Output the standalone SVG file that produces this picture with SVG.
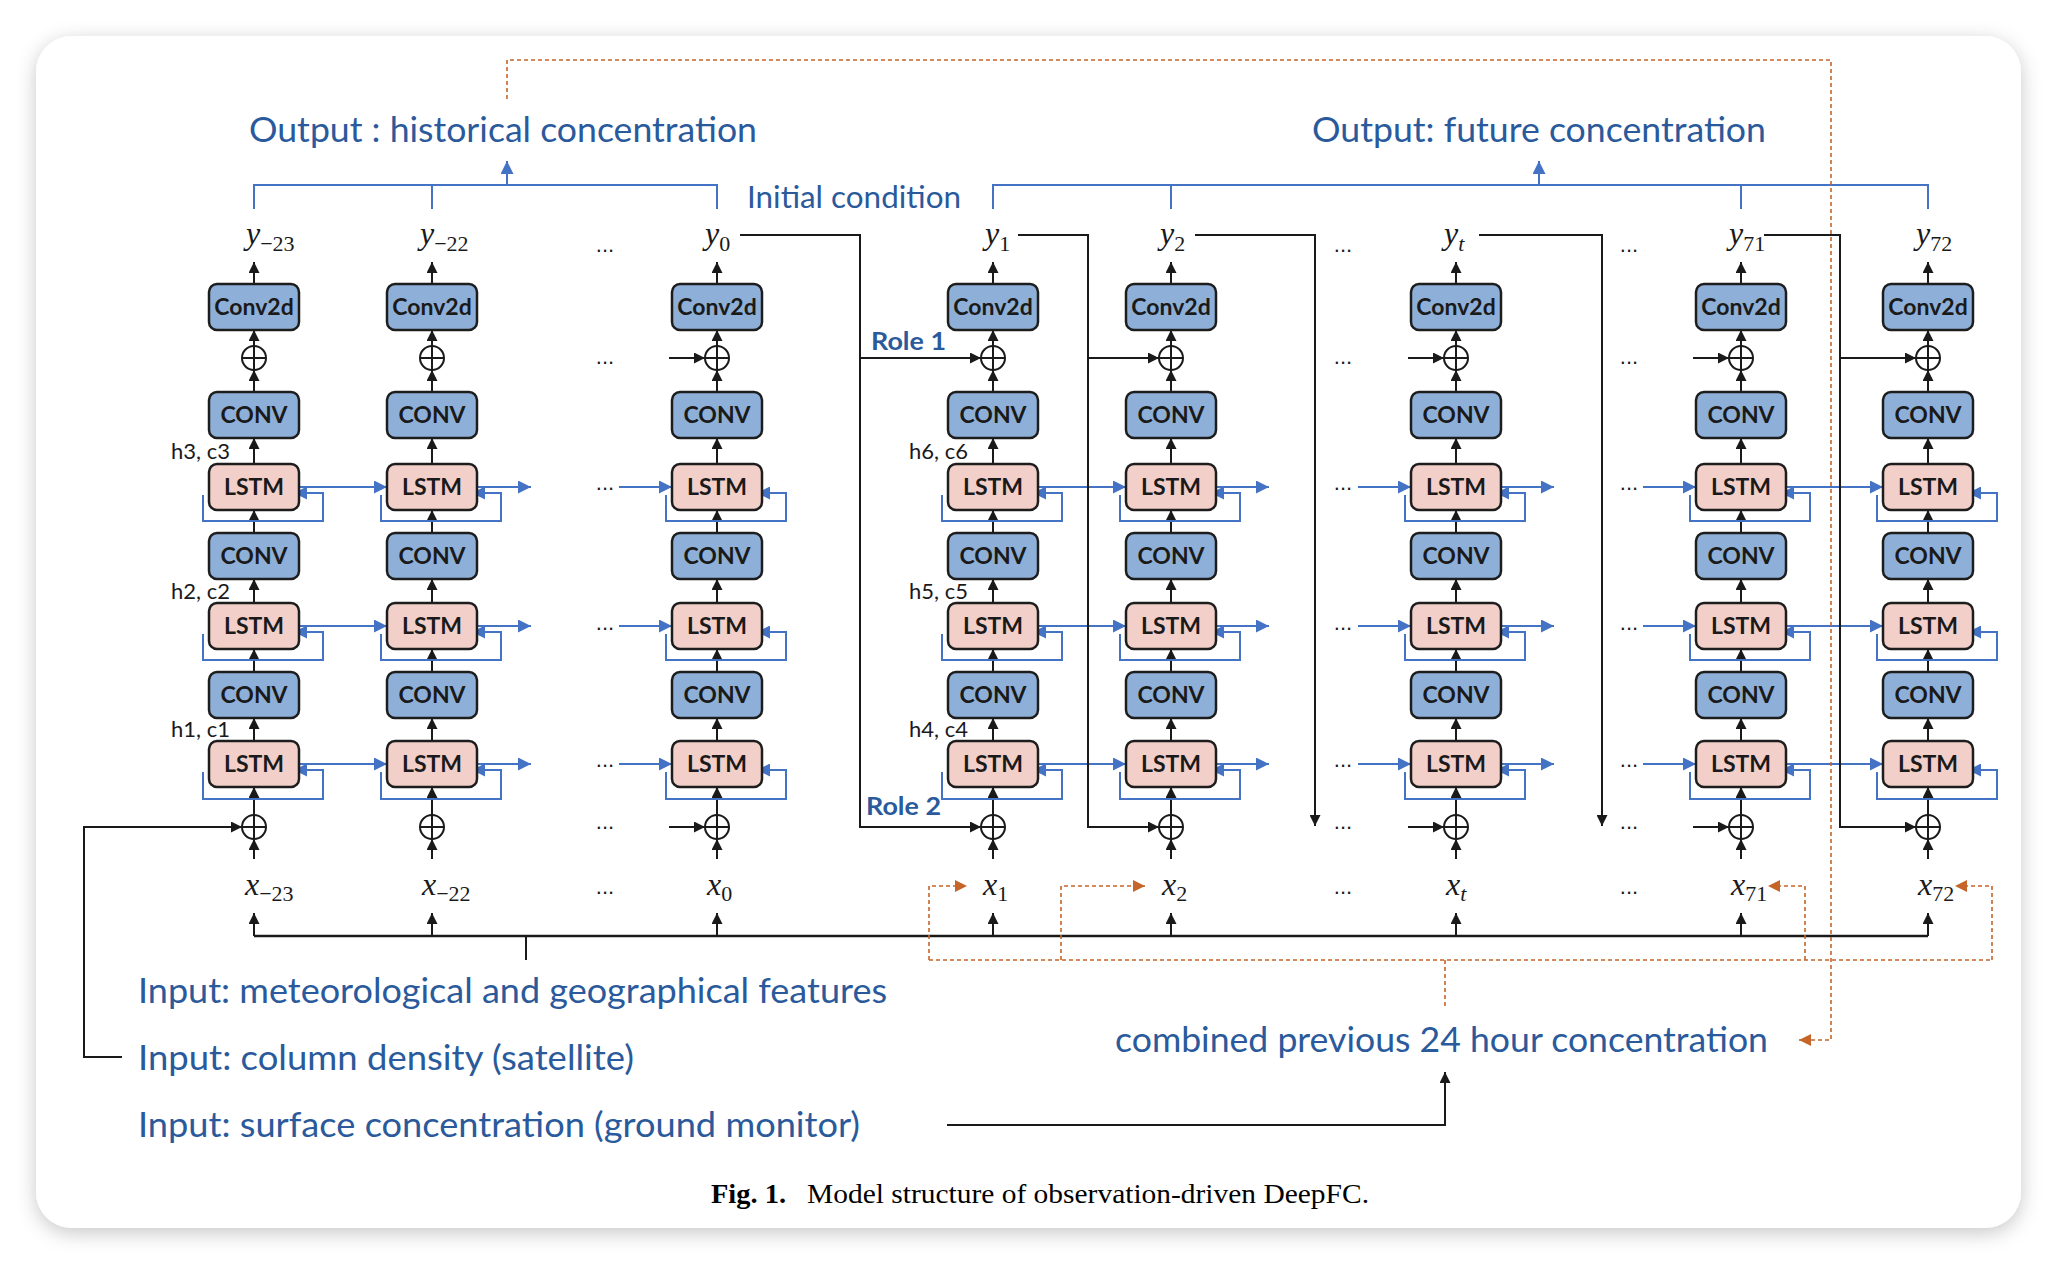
<svg xmlns="http://www.w3.org/2000/svg" width="2058" height="1264" viewBox="0 0 2058 1264">
<defs>
<filter id="sh" x="-3%" y="-4%" width="106%" height="110%"><feDropShadow dx="0" dy="5" stdDeviation="10" flood-color="#000" flood-opacity="0.22"/></filter>
<marker id="ak" viewBox="0 0 12 12" refX="12" refY="6" markerWidth="11" markerHeight="11" markerUnits="userSpaceOnUse" orient="auto"><path d="M0,0L12,6L0,12z" fill="#1a1a1a"/></marker>
<marker id="ab" viewBox="0 0 12 12" refX="12" refY="6" markerWidth="13" markerHeight="13" markerUnits="userSpaceOnUse" orient="auto"><path d="M0,0L12,6L0,12z" fill="#4472c4"/></marker>
<marker id="ao" viewBox="0 0 12 12" refX="12" refY="6" markerWidth="12" markerHeight="12" markerUnits="userSpaceOnUse" orient="auto"><path d="M0,0L12,6L0,12z" fill="#c5652a"/></marker>
<style>
.k{fill:none;stroke:#1a1a1a;stroke-width:2}
.ka{marker-end:url(#ak)}
.b{fill:none;stroke:#4472c4;stroke-width:2}
.ba{marker-end:url(#ab)}
.o{fill:none;stroke:#c5652a;stroke-width:1.6;stroke-dasharray:4 3}
.oa{marker-end:url(#ao)}
.bc{fill:#8eb0d8;stroke:#1d1d1d;stroke-width:2.5}
.bp{fill:#f2cfc9;stroke:#1d1d1d;stroke-width:2.5}
.nt{font-family:Lato,"Open Sans",sans-serif;font-weight:700;font-size:23px;fill:#1a1a1a;text-anchor:middle}
.add{fill:none;stroke:#1a1a1a;stroke-width:2}
.lab{font-family:Lato,"Open Sans",sans-serif;font-size:34px;fill:#2a5a9b}
.role{font-family:Lato,"Open Sans",sans-serif;font-weight:700;font-size:25px;fill:#2a5a9b}
.hc{font-family:Lato,"Open Sans",sans-serif;font-size:22px;fill:#1a1a1a;text-anchor:end}
.m{font-family:"Liberation Serif",serif;font-size:32px;fill:#1a1a1a}
.mi{font-style:italic}
.sub{font-size:22px}
.dots{font-family:"Liberation Sans",sans-serif;font-size:22px;fill:#1a1a1a;text-anchor:middle}
.cap{font-family:"Liberation Serif",serif;font-size:27px;fill:#000}
</style>
</defs>
<rect width="2058" height="1264" fill="#ffffff"/>
<rect x="36" y="36" width="1985" height="1192" rx="36" fill="#ffffff" filter="url(#sh)"/>

<!-- connectors -->
<g id="connectors">
  <!-- output brackets -->
  <path class="b" d="M254,209V185H717V209M432,185V209"/>
  <path class="b ba" d="M507,185V161"/>
  <path class="b" d="M993,209V185H1928V209M1171,185V209M1741,185V209"/>
  <path class="b ba" d="M1539,185V161"/>
  <!-- per-column vertical arrows and LSTM self loops -->
  <g id="col-links">
  <g transform="translate(254,0)"><path class="k ka" d="M0,284V262"/><path class="k ka" d="M0,346V330"/><path class="k ka" d="M0,392V370"/><path class="k ka" d="M0,464V438"/><path class="k ka" d="M0,533V510"/><path class="k ka" d="M0,603V579"/><path class="k ka" d="M0,672V649"/><path class="k ka" d="M0,741V718"/><path class="k ka" d="M0,815V787"/><path class="k ka" d="M0,859V839"/><path class="k ka" d="M0,936V913"/><path class="b ba" d="M-51,495V521H69V493H40"/><path class="b ba" d="M-51,634V660H69V632H40"/><path class="b ba" d="M-51,772V799H69V770H40"/></g>
  <g transform="translate(432,0)"><path class="k ka" d="M0,284V262"/><path class="k ka" d="M0,346V330"/><path class="k ka" d="M0,392V370"/><path class="k ka" d="M0,464V438"/><path class="k ka" d="M0,533V510"/><path class="k ka" d="M0,603V579"/><path class="k ka" d="M0,672V649"/><path class="k ka" d="M0,741V718"/><path class="k ka" d="M0,815V787"/><path class="k ka" d="M0,859V839"/><path class="k ka" d="M0,936V913"/><path class="b ba" d="M-51,495V521H69V493H40"/><path class="b ba" d="M-51,634V660H69V632H40"/><path class="b ba" d="M-51,772V799H69V770H40"/></g>
  <g transform="translate(717,0)"><path class="k ka" d="M0,284V262"/><path class="k ka" d="M0,346V330"/><path class="k ka" d="M0,392V370"/><path class="k ka" d="M0,464V438"/><path class="k ka" d="M0,533V510"/><path class="k ka" d="M0,603V579"/><path class="k ka" d="M0,672V649"/><path class="k ka" d="M0,741V718"/><path class="k ka" d="M0,815V787"/><path class="k ka" d="M0,859V839"/><path class="k ka" d="M0,936V913"/><path class="b ba" d="M-51,495V521H69V493H40"/><path class="b ba" d="M-51,634V660H69V632H40"/><path class="b ba" d="M-51,772V799H69V770H40"/></g>
  <g transform="translate(993,0)"><path class="k ka" d="M0,284V262"/><path class="k ka" d="M0,346V330"/><path class="k ka" d="M0,392V370"/><path class="k ka" d="M0,464V438"/><path class="k ka" d="M0,533V510"/><path class="k ka" d="M0,603V579"/><path class="k ka" d="M0,672V649"/><path class="k ka" d="M0,741V718"/><path class="k ka" d="M0,815V787"/><path class="k ka" d="M0,859V839"/><path class="k ka" d="M0,936V913"/><path class="b ba" d="M-51,495V521H69V493H40"/><path class="b ba" d="M-51,634V660H69V632H40"/><path class="b ba" d="M-51,772V799H69V770H40"/></g>
  <g transform="translate(1171,0)"><path class="k ka" d="M0,284V262"/><path class="k ka" d="M0,346V330"/><path class="k ka" d="M0,392V370"/><path class="k ka" d="M0,464V438"/><path class="k ka" d="M0,533V510"/><path class="k ka" d="M0,603V579"/><path class="k ka" d="M0,672V649"/><path class="k ka" d="M0,741V718"/><path class="k ka" d="M0,815V787"/><path class="k ka" d="M0,859V839"/><path class="k ka" d="M0,936V913"/><path class="b ba" d="M-51,495V521H69V493H40"/><path class="b ba" d="M-51,634V660H69V632H40"/><path class="b ba" d="M-51,772V799H69V770H40"/></g>
  <g transform="translate(1456,0)"><path class="k ka" d="M0,284V262"/><path class="k ka" d="M0,346V330"/><path class="k ka" d="M0,392V370"/><path class="k ka" d="M0,464V438"/><path class="k ka" d="M0,533V510"/><path class="k ka" d="M0,603V579"/><path class="k ka" d="M0,672V649"/><path class="k ka" d="M0,741V718"/><path class="k ka" d="M0,815V787"/><path class="k ka" d="M0,859V839"/><path class="k ka" d="M0,936V913"/><path class="b ba" d="M-51,495V521H69V493H40"/><path class="b ba" d="M-51,634V660H69V632H40"/><path class="b ba" d="M-51,772V799H69V770H40"/></g>
  <g transform="translate(1741,0)"><path class="k ka" d="M0,284V262"/><path class="k ka" d="M0,346V330"/><path class="k ka" d="M0,392V370"/><path class="k ka" d="M0,464V438"/><path class="k ka" d="M0,533V510"/><path class="k ka" d="M0,603V579"/><path class="k ka" d="M0,672V649"/><path class="k ka" d="M0,741V718"/><path class="k ka" d="M0,815V787"/><path class="k ka" d="M0,859V839"/><path class="k ka" d="M0,936V913"/><path class="b ba" d="M-51,495V521H69V493H40"/><path class="b ba" d="M-51,634V660H69V632H40"/><path class="b ba" d="M-51,772V799H69V770H40"/></g>
  <g transform="translate(1928,0)"><path class="k ka" d="M0,284V262"/><path class="k ka" d="M0,346V330"/><path class="k ka" d="M0,392V370"/><path class="k ka" d="M0,464V438"/><path class="k ka" d="M0,533V510"/><path class="k ka" d="M0,603V579"/><path class="k ka" d="M0,672V649"/><path class="k ka" d="M0,741V718"/><path class="k ka" d="M0,815V787"/><path class="k ka" d="M0,859V839"/><path class="k ka" d="M0,936V913"/><path class="b ba" d="M-51,495V521H69V493H40"/><path class="b ba" d="M-51,634V660H69V632H40"/><path class="b ba" d="M-51,772V799H69V770H40"/></g>
  </g>
  <!-- LSTM links between time steps -->
  <g id="lstm-links">
  <path class="b ba" d="M299,487H387"/><path class="b ba" d="M477,487H531"/><path class="b ba" d="M619,487H672"/><path class="b ba" d="M1038,487H1126"/><path class="b ba" d="M1216,487H1269"/><path class="b ba" d="M1358,487H1411"/><path class="b ba" d="M1501,487H1554"/><path class="b ba" d="M1643,487H1696"/><path class="b ba" d="M1786,487H1883"/>
  <path class="b ba" d="M299,626H387"/><path class="b ba" d="M477,626H531"/><path class="b ba" d="M619,626H672"/><path class="b ba" d="M1038,626H1126"/><path class="b ba" d="M1216,626H1269"/><path class="b ba" d="M1358,626H1411"/><path class="b ba" d="M1501,626H1554"/><path class="b ba" d="M1643,626H1696"/><path class="b ba" d="M1786,626H1883"/>
  <path class="b ba" d="M299,764H387"/><path class="b ba" d="M477,764H531"/><path class="b ba" d="M619,764H672"/><path class="b ba" d="M1038,764H1126"/><path class="b ba" d="M1216,764H1269"/><path class="b ba" d="M1358,764H1411"/><path class="b ba" d="M1501,764H1554"/><path class="b ba" d="M1643,764H1696"/><path class="b ba" d="M1786,764H1883"/>
  </g>
  <!-- stubs into adders -->
  <path class="k ka" d="M669,358H705"/><path class="k ka" d="M669,827H705"/>
  <path class="k ka" d="M1408,358H1444"/><path class="k ka" d="M1408,827H1444"/>
  <path class="k ka" d="M1693,358H1729"/><path class="k ka" d="M1693,827H1729"/>
  <!-- role feedback lines -->
  <path class="k ka" d="M740,235H860V827H981"/><path class="k ka" d="M860,358H981"/>
  <path class="k ka" d="M1018,235H1088V827H1159"/><path class="k ka" d="M1088,358H1159"/>
  <path class="k ka" d="M1195,235H1315V826"/>
  <path class="k ka" d="M1479,235H1602V826"/>
  <path class="k ka" d="M1764,235H1840V827H1916"/><path class="k ka" d="M1840,358H1916"/>
  <!-- inputs -->
  <path class="k ka" d="M122,1057H84V827H242"/>
  <path class="k" style="stroke-width:2.5" d="M254,936H1928"/>
  <path class="k" d="M526,936V960"/>
  <path class="k ka" d="M947,1125H1445V1072"/>
  <!-- orange dashed -->
  <path class="o oa" d="M507,99V60H1831V1040H1799"/>
  <path class="o" d="M929,960H1992"/>
  <path class="o oa" d="M929,960V886H967"/>
  <path class="o oa" d="M1061,960V886H1145"/>
  <path class="o oa" d="M1805,960V886H1768"/>
  <path class="o oa" d="M1992,960V886H1955"/>
  <path class="o" d="M1445,960V1008"/>
</g>

<!-- nodes -->
<g id="nodes">
<g id="col1" transform="translate(254,0)">
 <g id="n1-conv2d"><rect class="bc" x="-45" y="284" width="90" height="46" rx="8"/><text class="nt" x="0" y="315">Conv2d</text></g>
 <g id="n1-addU"><circle class="add" cx="0" cy="358" r="12"/><path class="add" d="M-12,358H12M0,346V370"/></g>
 <g id="n1-conv3"><rect class="bc" x="-45" y="392" width="90" height="46" rx="8"/><text class="nt" x="0" y="423">CONV</text></g>
 <g id="n1-lstm3"><rect class="bp" x="-45" y="464" width="90" height="46" rx="8"/><text class="nt" x="0" y="495">LSTM</text></g>
 <g id="n1-conv2"><rect class="bc" x="-45" y="533" width="90" height="46" rx="8"/><text class="nt" x="0" y="564">CONV</text></g>
 <g id="n1-lstm2"><rect class="bp" x="-45" y="603" width="90" height="46" rx="8"/><text class="nt" x="0" y="634">LSTM</text></g>
 <g id="n1-conv1"><rect class="bc" x="-45" y="672" width="90" height="46" rx="8"/><text class="nt" x="0" y="703">CONV</text></g>
 <g id="n1-lstm1"><rect class="bp" x="-45" y="741" width="90" height="46" rx="8"/><text class="nt" x="0" y="772">LSTM</text></g>
 <g id="n1-addL"><circle class="add" cx="0" cy="827" r="12"/><path class="add" d="M-12,827H12M0,815V839"/></g>
</g>
<g id="col2" transform="translate(432,0)">
 <g id="n2-conv2d"><rect class="bc" x="-45" y="284" width="90" height="46" rx="8"/><text class="nt" x="0" y="315">Conv2d</text></g>
 <g id="n2-addU"><circle class="add" cx="0" cy="358" r="12"/><path class="add" d="M-12,358H12M0,346V370"/></g>
 <g id="n2-conv3"><rect class="bc" x="-45" y="392" width="90" height="46" rx="8"/><text class="nt" x="0" y="423">CONV</text></g>
 <g id="n2-lstm3"><rect class="bp" x="-45" y="464" width="90" height="46" rx="8"/><text class="nt" x="0" y="495">LSTM</text></g>
 <g id="n2-conv2"><rect class="bc" x="-45" y="533" width="90" height="46" rx="8"/><text class="nt" x="0" y="564">CONV</text></g>
 <g id="n2-lstm2"><rect class="bp" x="-45" y="603" width="90" height="46" rx="8"/><text class="nt" x="0" y="634">LSTM</text></g>
 <g id="n2-conv1"><rect class="bc" x="-45" y="672" width="90" height="46" rx="8"/><text class="nt" x="0" y="703">CONV</text></g>
 <g id="n2-lstm1"><rect class="bp" x="-45" y="741" width="90" height="46" rx="8"/><text class="nt" x="0" y="772">LSTM</text></g>
 <g id="n2-addL"><circle class="add" cx="0" cy="827" r="12"/><path class="add" d="M-12,827H12M0,815V839"/></g>
</g>
<g id="col3" transform="translate(717,0)">
 <g id="n3-conv2d"><rect class="bc" x="-45" y="284" width="90" height="46" rx="8"/><text class="nt" x="0" y="315">Conv2d</text></g>
 <g id="n3-addU"><circle class="add" cx="0" cy="358" r="12"/><path class="add" d="M-12,358H12M0,346V370"/></g>
 <g id="n3-conv3"><rect class="bc" x="-45" y="392" width="90" height="46" rx="8"/><text class="nt" x="0" y="423">CONV</text></g>
 <g id="n3-lstm3"><rect class="bp" x="-45" y="464" width="90" height="46" rx="8"/><text class="nt" x="0" y="495">LSTM</text></g>
 <g id="n3-conv2"><rect class="bc" x="-45" y="533" width="90" height="46" rx="8"/><text class="nt" x="0" y="564">CONV</text></g>
 <g id="n3-lstm2"><rect class="bp" x="-45" y="603" width="90" height="46" rx="8"/><text class="nt" x="0" y="634">LSTM</text></g>
 <g id="n3-conv1"><rect class="bc" x="-45" y="672" width="90" height="46" rx="8"/><text class="nt" x="0" y="703">CONV</text></g>
 <g id="n3-lstm1"><rect class="bp" x="-45" y="741" width="90" height="46" rx="8"/><text class="nt" x="0" y="772">LSTM</text></g>
 <g id="n3-addL"><circle class="add" cx="0" cy="827" r="12"/><path class="add" d="M-12,827H12M0,815V839"/></g>
</g>
<g id="col4" transform="translate(993,0)">
 <g id="n4-conv2d"><rect class="bc" x="-45" y="284" width="90" height="46" rx="8"/><text class="nt" x="0" y="315">Conv2d</text></g>
 <g id="n4-addU"><circle class="add" cx="0" cy="358" r="12"/><path class="add" d="M-12,358H12M0,346V370"/></g>
 <g id="n4-conv3"><rect class="bc" x="-45" y="392" width="90" height="46" rx="8"/><text class="nt" x="0" y="423">CONV</text></g>
 <g id="n4-lstm3"><rect class="bp" x="-45" y="464" width="90" height="46" rx="8"/><text class="nt" x="0" y="495">LSTM</text></g>
 <g id="n4-conv2"><rect class="bc" x="-45" y="533" width="90" height="46" rx="8"/><text class="nt" x="0" y="564">CONV</text></g>
 <g id="n4-lstm2"><rect class="bp" x="-45" y="603" width="90" height="46" rx="8"/><text class="nt" x="0" y="634">LSTM</text></g>
 <g id="n4-conv1"><rect class="bc" x="-45" y="672" width="90" height="46" rx="8"/><text class="nt" x="0" y="703">CONV</text></g>
 <g id="n4-lstm1"><rect class="bp" x="-45" y="741" width="90" height="46" rx="8"/><text class="nt" x="0" y="772">LSTM</text></g>
 <g id="n4-addL"><circle class="add" cx="0" cy="827" r="12"/><path class="add" d="M-12,827H12M0,815V839"/></g>
</g>
<g id="col5" transform="translate(1171,0)">
 <g id="n5-conv2d"><rect class="bc" x="-45" y="284" width="90" height="46" rx="8"/><text class="nt" x="0" y="315">Conv2d</text></g>
 <g id="n5-addU"><circle class="add" cx="0" cy="358" r="12"/><path class="add" d="M-12,358H12M0,346V370"/></g>
 <g id="n5-conv3"><rect class="bc" x="-45" y="392" width="90" height="46" rx="8"/><text class="nt" x="0" y="423">CONV</text></g>
 <g id="n5-lstm3"><rect class="bp" x="-45" y="464" width="90" height="46" rx="8"/><text class="nt" x="0" y="495">LSTM</text></g>
 <g id="n5-conv2"><rect class="bc" x="-45" y="533" width="90" height="46" rx="8"/><text class="nt" x="0" y="564">CONV</text></g>
 <g id="n5-lstm2"><rect class="bp" x="-45" y="603" width="90" height="46" rx="8"/><text class="nt" x="0" y="634">LSTM</text></g>
 <g id="n5-conv1"><rect class="bc" x="-45" y="672" width="90" height="46" rx="8"/><text class="nt" x="0" y="703">CONV</text></g>
 <g id="n5-lstm1"><rect class="bp" x="-45" y="741" width="90" height="46" rx="8"/><text class="nt" x="0" y="772">LSTM</text></g>
 <g id="n5-addL"><circle class="add" cx="0" cy="827" r="12"/><path class="add" d="M-12,827H12M0,815V839"/></g>
</g>
<g id="col6" transform="translate(1456,0)">
 <g id="n6-conv2d"><rect class="bc" x="-45" y="284" width="90" height="46" rx="8"/><text class="nt" x="0" y="315">Conv2d</text></g>
 <g id="n6-addU"><circle class="add" cx="0" cy="358" r="12"/><path class="add" d="M-12,358H12M0,346V370"/></g>
 <g id="n6-conv3"><rect class="bc" x="-45" y="392" width="90" height="46" rx="8"/><text class="nt" x="0" y="423">CONV</text></g>
 <g id="n6-lstm3"><rect class="bp" x="-45" y="464" width="90" height="46" rx="8"/><text class="nt" x="0" y="495">LSTM</text></g>
 <g id="n6-conv2"><rect class="bc" x="-45" y="533" width="90" height="46" rx="8"/><text class="nt" x="0" y="564">CONV</text></g>
 <g id="n6-lstm2"><rect class="bp" x="-45" y="603" width="90" height="46" rx="8"/><text class="nt" x="0" y="634">LSTM</text></g>
 <g id="n6-conv1"><rect class="bc" x="-45" y="672" width="90" height="46" rx="8"/><text class="nt" x="0" y="703">CONV</text></g>
 <g id="n6-lstm1"><rect class="bp" x="-45" y="741" width="90" height="46" rx="8"/><text class="nt" x="0" y="772">LSTM</text></g>
 <g id="n6-addL"><circle class="add" cx="0" cy="827" r="12"/><path class="add" d="M-12,827H12M0,815V839"/></g>
</g>
<g id="col7" transform="translate(1741,0)">
 <g id="n7-conv2d"><rect class="bc" x="-45" y="284" width="90" height="46" rx="8"/><text class="nt" x="0" y="315">Conv2d</text></g>
 <g id="n7-addU"><circle class="add" cx="0" cy="358" r="12"/><path class="add" d="M-12,358H12M0,346V370"/></g>
 <g id="n7-conv3"><rect class="bc" x="-45" y="392" width="90" height="46" rx="8"/><text class="nt" x="0" y="423">CONV</text></g>
 <g id="n7-lstm3"><rect class="bp" x="-45" y="464" width="90" height="46" rx="8"/><text class="nt" x="0" y="495">LSTM</text></g>
 <g id="n7-conv2"><rect class="bc" x="-45" y="533" width="90" height="46" rx="8"/><text class="nt" x="0" y="564">CONV</text></g>
 <g id="n7-lstm2"><rect class="bp" x="-45" y="603" width="90" height="46" rx="8"/><text class="nt" x="0" y="634">LSTM</text></g>
 <g id="n7-conv1"><rect class="bc" x="-45" y="672" width="90" height="46" rx="8"/><text class="nt" x="0" y="703">CONV</text></g>
 <g id="n7-lstm1"><rect class="bp" x="-45" y="741" width="90" height="46" rx="8"/><text class="nt" x="0" y="772">LSTM</text></g>
 <g id="n7-addL"><circle class="add" cx="0" cy="827" r="12"/><path class="add" d="M-12,827H12M0,815V839"/></g>
</g>
<g id="col8" transform="translate(1928,0)">
 <g id="n8-conv2d"><rect class="bc" x="-45" y="284" width="90" height="46" rx="8"/><text class="nt" x="0" y="315">Conv2d</text></g>
 <g id="n8-addU"><circle class="add" cx="0" cy="358" r="12"/><path class="add" d="M-12,358H12M0,346V370"/></g>
 <g id="n8-conv3"><rect class="bc" x="-45" y="392" width="90" height="46" rx="8"/><text class="nt" x="0" y="423">CONV</text></g>
 <g id="n8-lstm3"><rect class="bp" x="-45" y="464" width="90" height="46" rx="8"/><text class="nt" x="0" y="495">LSTM</text></g>
 <g id="n8-conv2"><rect class="bc" x="-45" y="533" width="90" height="46" rx="8"/><text class="nt" x="0" y="564">CONV</text></g>
 <g id="n8-lstm2"><rect class="bp" x="-45" y="603" width="90" height="46" rx="8"/><text class="nt" x="0" y="634">LSTM</text></g>
 <g id="n8-conv1"><rect class="bc" x="-45" y="672" width="90" height="46" rx="8"/><text class="nt" x="0" y="703">CONV</text></g>
 <g id="n8-lstm1"><rect class="bp" x="-45" y="741" width="90" height="46" rx="8"/><text class="nt" x="0" y="772">LSTM</text></g>
 <g id="n8-addL"><circle class="add" cx="0" cy="827" r="12"/><path class="add" d="M-12,827H12M0,815V839"/></g>
</g>
</g>

<!-- labels -->
<g id="labels">
 <text class="lab" x="249" y="142" textLength="508" lengthAdjust="spacingAndGlyphs">Output : historical concentration</text>
 <text class="lab" x="1312" y="142" textLength="454" lengthAdjust="spacingAndGlyphs">Output: future concentration</text>
 <text class="lab" x="747" y="208" style="font-size:31px" textLength="214" lengthAdjust="spacingAndGlyphs">Initial condition</text>
 <text class="lab" x="138" y="1003" textLength="749" lengthAdjust="spacingAndGlyphs">Input: meteorological and geographical features</text>
 <text class="lab" x="138" y="1070" textLength="496" lengthAdjust="spacingAndGlyphs">Input: column density (satellite)</text>
 <text class="lab" x="138" y="1137" textLength="722" lengthAdjust="spacingAndGlyphs">Input: surface concentration (ground monitor)</text>
 <text class="lab" x="1115" y="1052" textLength="653" lengthAdjust="spacingAndGlyphs">combined previous 24 hour concentration</text>
 <text class="role" x="871" y="350" textLength="75" lengthAdjust="spacingAndGlyphs">Role 1</text>
 <text class="role" x="866" y="815" textLength="75" lengthAdjust="spacingAndGlyphs">Role 2</text>
 <text class="hc" x="230" y="459">h3, c3</text>
 <text class="hc" x="230" y="599">h2, c2</text>
 <text class="hc" x="230" y="737">h1, c1</text>
 <text class="hc" x="968" y="459">h6, c6</text>
 <text class="hc" x="968" y="599">h5, c5</text>
 <text class="hc" x="968" y="737">h4, c4</text>
 <!-- outputs y -->
 <text class="m" x="246" y="244"><tspan class="mi">y</tspan><tspan class="sub" dy="7">−23</tspan></text>
 <text class="m" x="420" y="244"><tspan class="mi">y</tspan><tspan class="sub" dy="7">−22</tspan></text>
 <text class="m" x="705" y="244"><tspan class="mi">y</tspan><tspan class="sub" dy="7">0</tspan></text>
 <text class="m" x="985" y="244"><tspan class="mi">y</tspan><tspan class="sub" dy="7">1</tspan></text>
 <text class="m" x="1160" y="244"><tspan class="mi">y</tspan><tspan class="sub" dy="7">2</tspan></text>
 <text class="m" x="1444" y="244"><tspan class="mi">y</tspan><tspan class="sub mi" dy="7">t</tspan></text>
 <text class="m" x="1729" y="244"><tspan class="mi">y</tspan><tspan class="sub" dy="7">71</tspan></text>
 <text class="m" x="1916" y="244"><tspan class="mi">y</tspan><tspan class="sub" dy="7">72</tspan></text>
 <!-- inputs x -->
 <text class="m" x="245" y="895"><tspan class="mi">x</tspan><tspan class="sub" dy="6">−23</tspan></text>
 <text class="m" x="422" y="895"><tspan class="mi">x</tspan><tspan class="sub" dy="6">−22</tspan></text>
 <text class="m" x="707" y="895"><tspan class="mi">x</tspan><tspan class="sub" dy="6">0</tspan></text>
 <text class="m" x="983" y="895"><tspan class="mi">x</tspan><tspan class="sub" dy="6">1</tspan></text>
 <text class="m" x="1162" y="895"><tspan class="mi">x</tspan><tspan class="sub" dy="6">2</tspan></text>
 <text class="m" x="1446" y="895"><tspan class="mi">x</tspan><tspan class="sub mi" dy="6">t</tspan></text>
 <text class="m" x="1731" y="895"><tspan class="mi">x</tspan><tspan class="sub" dy="6">71</tspan></text>
 <text class="m" x="1918" y="895"><tspan class="mi">x</tspan><tspan class="sub" dy="6">72</tspan></text>
 <!-- ellipses -->
 <g id="dots">
  <text class="dots" x="605" y="252">...</text><text class="dots" x="605" y="364">...</text><text class="dots" x="605" y="490">...</text><text class="dots" x="605" y="630">...</text><text class="dots" x="605" y="767">...</text><text class="dots" x="605" y="829">...</text><text class="dots" x="605" y="894">...</text>
  <text class="dots" x="1343" y="252">...</text><text class="dots" x="1343" y="364">...</text><text class="dots" x="1343" y="490">...</text><text class="dots" x="1343" y="630">...</text><text class="dots" x="1343" y="767">...</text><text class="dots" x="1343" y="829">...</text><text class="dots" x="1343" y="894">...</text>
  <text class="dots" x="1629" y="252">...</text><text class="dots" x="1629" y="364">...</text><text class="dots" x="1629" y="490">...</text><text class="dots" x="1629" y="630">...</text><text class="dots" x="1629" y="767">...</text><text class="dots" x="1629" y="829">...</text><text class="dots" x="1629" y="894">...</text>
 </g>
 <text class="cap" x="711" y="1203" style="font-weight:bold" textLength="75" lengthAdjust="spacingAndGlyphs">Fig. 1.</text>
 <text class="cap" x="807" y="1203" textLength="562" lengthAdjust="spacingAndGlyphs">Model structure of observation-driven DeepFC.</text>
</g>
</svg>
